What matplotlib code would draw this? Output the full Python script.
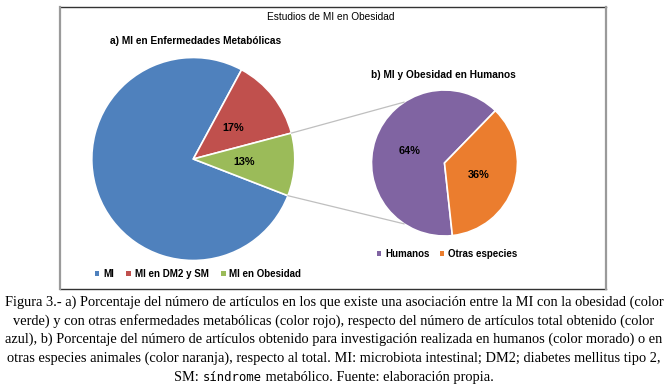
import numpy as np
import matplotlib
matplotlib.use('Agg')
import matplotlib.pyplot as plt
from matplotlib.patches import Patch
from matplotlib.patches import ConnectionPatch
from matplotlib.lines import Line2D

# Data
pie_a_labels = ['MI', 'MI en DM2 y SM', 'MI en Obesidad']
pie_a_values = [77, 13, 10]            # slice sizes as drawn
pie_a_text = ['', '17%', '13%']        # labels as printed
pie_a_colors = ['#4F81BD', '#C0504D', '#9BBB59']

pie_b_labels = ['Humanos', 'Otras especies']
pie_b_values = [64, 36]
pie_b_text = ['64%', '36%']
pie_b_colors = ['#8064A2', '#EB7D2E']

title = 'Estudios de MI en Obesidad'
title_a = 'a) MI en Enfermedades Metabólicas'
title_b = 'b) MI y Obesidad en Humanos'

caption = [
    'Figura 3.- a) Porcentaje del número de artículos en los que existe una asociación entre la MI con la obesidad (color',
    'verde) y con otras enfermedades metabólicas (color rojo), respecto del número de artículos total obtenido (color',
    'azul), b) Porcentaje del número de artículos obtenido para investigación realizada en humanos (color morado) o en',
    'otras especies animales (color naranja), respecto al total. MI: microbiota intestinal; DM2; diabetes mellitus tipo 2,',
]
caption_last = ['SM: ', 'síndrome', ' metabólico. Fuente: elaboración propia.']

W, H = 668, 384
plt.rcParams['font.family'] = ['Liberation Sans', 'DejaVu Sans']
fig = plt.figure(figsize=(W / 100, H / 100), dpi=100)


def fx(x):
    return x / W


def fy(y):
    return 1 - y / H


def pie_axes(cx, cy, r):
    ax = fig.add_axes([(cx - r) / W, 1 - (cy + r) / H, 2 * r / W, 2 * r / H])
    return ax


# chart frame
fig.add_artist(Line2D([fx(60), fx(606)], [fy(7), fy(7)], color='#333333', lw=1))
fig.add_artist(Line2D([fx(60), fx(606)], [fy(289), fy(289)], color='#333333', lw=1))
fig.add_artist(Line2D([fx(60), fx(60)], [fy(7), fy(289)], color='#9a9a9a', lw=1.6))
fig.add_artist(Line2D([fx(606), fx(606)], [fy(7), fy(289)], color='#9a9a9a', lw=1.6))

# left pie: the broken-out slice sits centred just below the horizontal
ax1 = pie_axes(193.3, 159, 101.5)
obes_deg = pie_a_values[-1] / sum(pie_a_values) * 360
wedges_a, _ = ax1.pie(pie_a_values, colors=pie_a_colors, startangle=-3.2 - obes_deg / 2,
                      counterclock=False,
                      wedgeprops=dict(edgecolor='white', linewidth=1.2))
ax1.set_xlim(-1, 1)
ax1.set_ylim(-1, 1)
for w, t in zip(wedges_a, pie_a_text):
    if t:
        a = np.deg2rad((w.theta1 + w.theta2) / 2)
        ax1.text(0.5 * np.cos(a), 0.5 * np.sin(a), t, ha='center', va='center',
                 fontsize=7.8, fontweight='bold')

# right pie
ax2 = pie_axes(444.5, 163, 73)
wedges_b, _ = ax2.pie(pie_b_values, colors=pie_b_colors, startangle=45.8,
                      wedgeprops=dict(edgecolor='white', linewidth=1.2))
ax2.set_xlim(-1, 1)
ax2.set_ylim(-1, 1)
for w, t in zip(wedges_b, pie_b_text):
    a = np.deg2rad((w.theta1 + w.theta2) / 2)
    ax2.text(0.5 * np.cos(a), 0.5 * np.sin(a), t, ha='center', va='center',
             fontsize=7.8, fontweight='bold')

# connector lines from the obesity slice to the second pie
g = wedges_a[-1]
for th_a, th_b in [(g.theta2, 123.5), (g.theta1, -123.5)]:
    ta, tb = np.deg2rad(th_a), np.deg2rad(th_b)
    con = ConnectionPatch(xyA=(np.cos(ta), np.sin(ta)), coordsA=ax1.transData,
                          xyB=(np.cos(tb), np.sin(tb)), coordsB=ax2.transData,
                          color='#BFBFBF', lw=0.9)
    fig.add_artist(con)

# titles
fig.text(fx(331), fy(17), title, ha='center', va='center', fontsize=7.3)
fig.text(fx(196), fy(41), title_a, ha='center', va='center', fontsize=7.3, fontweight='bold')
fig.text(fx(443), fy(75), title_b, ha='center', va='center', fontsize=7.3, fontweight='bold')

# legends
leg_kw = dict(frameon=False, prop=dict(size=7, weight='bold'), handlelength=0.45,
              handleheight=0.45, handletextpad=0.4, borderpad=0, borderaxespad=0,
              loc='center')
h_a = [Patch(facecolor=c, edgecolor='none') for c in pie_a_colors]
fig.legend(h_a, pie_a_labels, ncol=3, columnspacing=1.3,
           bbox_to_anchor=(fx(198), fy(274)), **leg_kw)
h_b = [Patch(facecolor=c, edgecolor='none') for c in pie_b_colors]
fig.legend(h_b, pie_b_labels, ncol=2, columnspacing=1.05,
           bbox_to_anchor=(fx(447), fy(254)), **leg_kw)

# caption
cap_kw = dict(fontsize=10.4, family='Liberation Serif', va='center')
for i, line in enumerate(caption):
    fig.text(0.5, fy(302 + 18.8 * i), line, ha='center', **cap_kw)

y5 = fy(302 + 18.8 * 4)
parts = [
    fig.text(0, y5, caption_last[0], ha='left', **cap_kw),
    fig.text(0, y5, caption_last[1], ha='left', fontsize=8.8,
             family='DejaVu Sans Mono', va='center'),
    fig.text(0, y5, caption_last[2], ha='left', **cap_kw),
]
fig.canvas.draw()
r = fig.canvas.get_renderer()
widths = [p.get_window_extent(r).width for p in parts]
x = W / 2 - sum(widths) / 2
for p, wd in zip(parts, widths):
    p.set_x(fx(x))
    x += wd

fig.savefig('out.png', dpi=100)
